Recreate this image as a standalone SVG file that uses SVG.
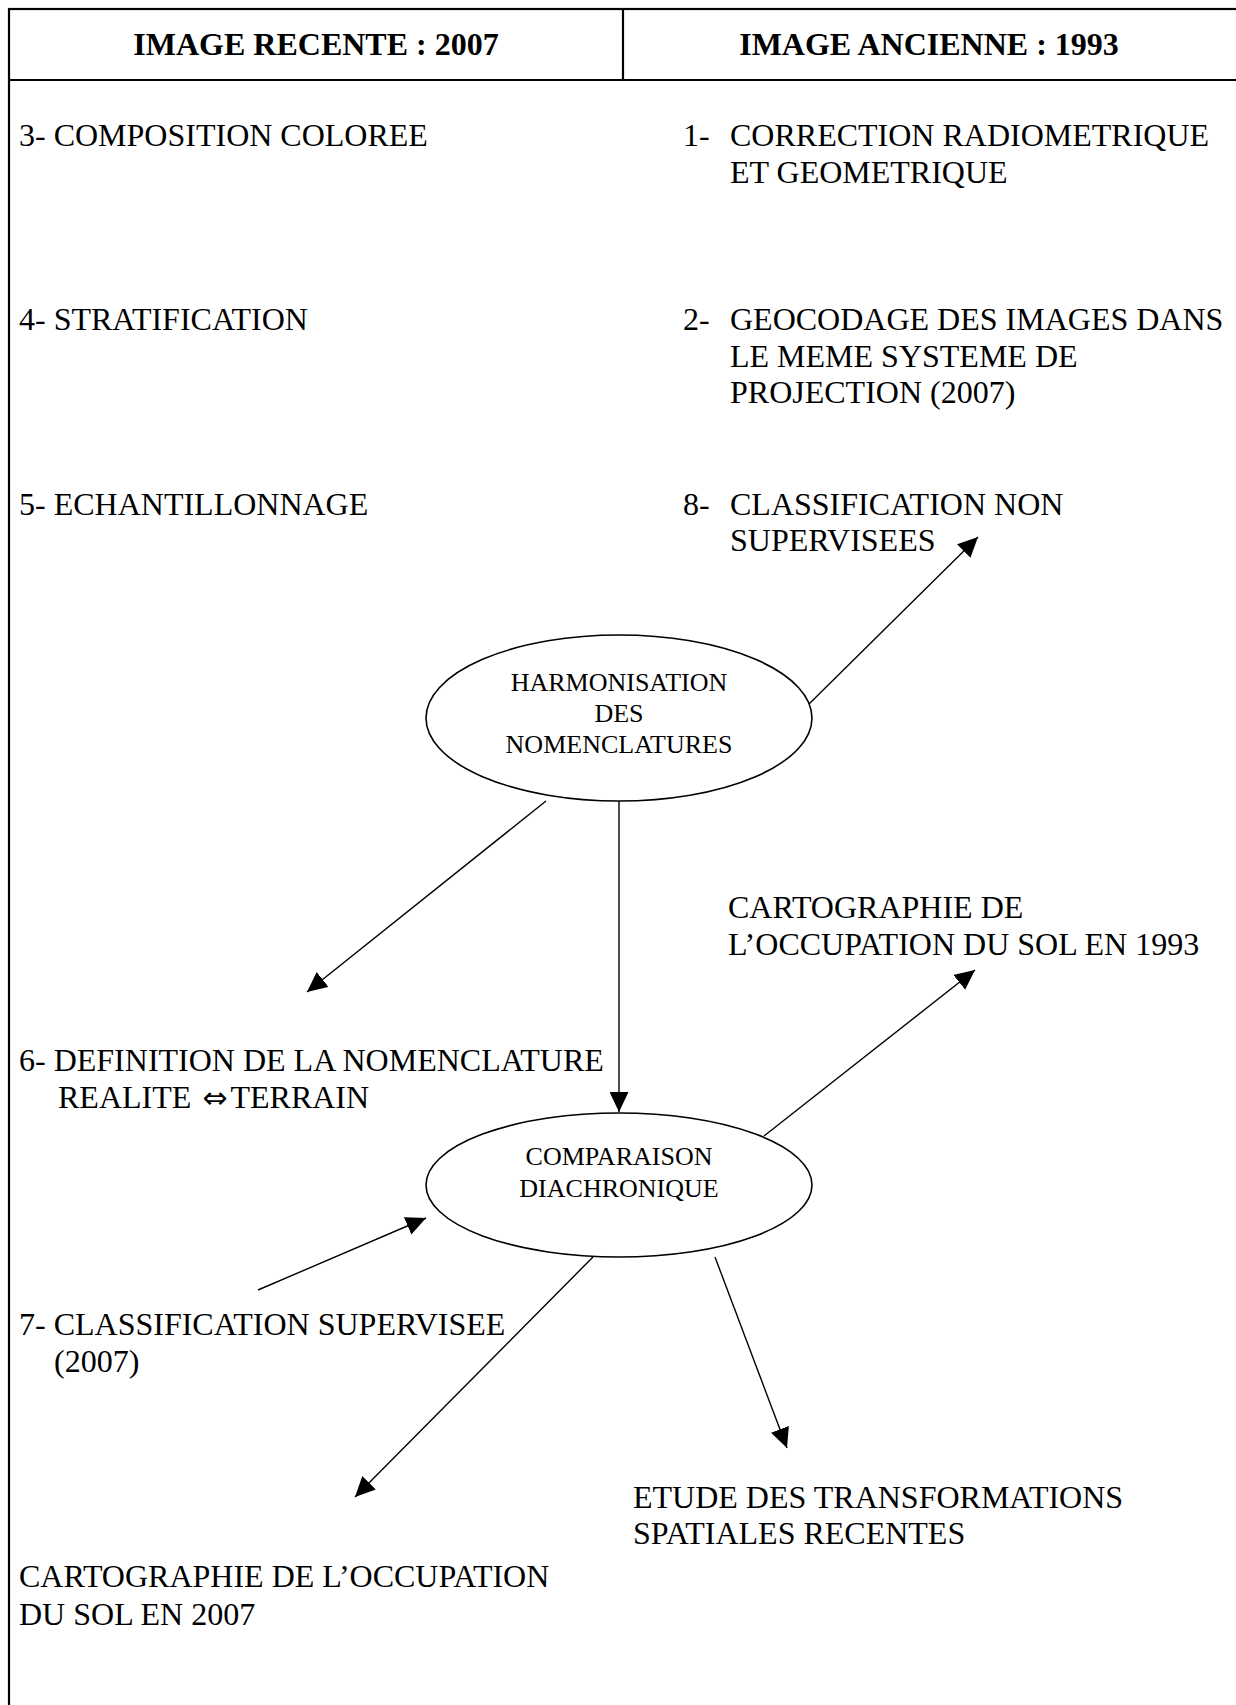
<svg xmlns="http://www.w3.org/2000/svg" width="1236" height="1705" viewBox="0 0 1236 1705">
<style>
  .frame { fill: none; stroke: #000; stroke-width: 2.2; }
  .head { font-family: "Liberation Serif", "Times New Roman", serif; font-size: 32px; font-weight: bold; fill: #000; text-anchor: middle; }
  .t { font-family: "Liberation Serif", "Times New Roman", serif; font-size: 32px; fill: #000; }
  .n { font-family: "Liberation Serif", "Times New Roman", serif; font-size: 26px; fill: #000; text-anchor: middle; }
  .ell { fill: #fff; stroke: #000; stroke-width: 1.6; }
  .conn line { stroke: #000; stroke-width: 1.4; marker-end: url(#arr); }
</style>
<defs>
  <marker id="arr" markerUnits="userSpaceOnUse" markerWidth="20" markerHeight="19" refX="20" refY="9.5" orient="auto">
    <path d="M0,0 L20,9.5 L0,19 z" fill="#000"/>
  </marker>
</defs>
<rect width="1236" height="1705" fill="#fff"/>
<g id="frame">
  <rect class="frame" x="9" y="9" width="1240" height="1710"/>
  <line class="frame" x1="9" y1="80" x2="1240" y2="80"/>
  <line class="frame" x1="623" y1="9" x2="623" y2="80"/>
  <text class="head" x="316" y="55">IMAGE RECENTE : 2007</text>
  <text class="head" x="929" y="55">IMAGE ANCIENNE : 1993</text>
</g>
<g id="step3"><text class="t" x="19" y="146">3- COMPOSITION COLOREE</text></g>
<g id="step4"><text class="t" x="19" y="330">4- STRATIFICATION</text></g>
<g id="step5"><text class="t" x="19" y="515">5- ECHANTILLONNAGE</text></g>
<g id="step1">
  <text class="t" x="683" y="146">1-</text>
  <text class="t" x="730" y="146">CORRECTION RADIOMETRIQUE</text>
  <text class="t" x="730" y="183">ET GEOMETRIQUE</text>
</g>
<g id="step2">
  <text class="t" x="683" y="330">2-</text>
  <text class="t" x="730" y="330">GEOCODAGE DES IMAGES DANS</text>
  <text class="t" x="730" y="367">LE MEME SYSTEME DE</text>
  <text class="t" x="730" y="403">PROJECTION (2007)</text>
</g>
<g id="step8">
  <text class="t" x="683" y="515">8-</text>
  <text class="t" x="730" y="515">CLASSIFICATION NON</text>
  <text class="t" x="730" y="551">SUPERVISEES</text>
</g>
<g id="harmonisation">
  <ellipse class="ell" cx="619" cy="718" rx="193" ry="83"/>
  <text class="n" x="619" y="691">HARMONISATION</text>
  <text class="n" x="619" y="722">DES</text>
  <text class="n" x="619" y="753">NOMENCLATURES</text>
</g>
<g id="carto1993">
  <text class="t" x="728" y="918">CARTOGRAPHIE DE</text>
  <text class="t" x="728" y="955">L’OCCUPATION DU SOL EN 1993</text>
</g>
<g id="step6">
  <text class="t" x="19" y="1071">6- DEFINITION DE LA NOMENCLATURE</text>
  <text class="t" x="58" y="1108">REALITE <tspan dx="3" font-family="DejaVu Sans, sans-serif" font-size="30px">⇔</tspan><tspan dx="3">TERRAIN</tspan></text>
</g>
<g id="comparaison">
  <ellipse class="ell" cx="619" cy="1185" rx="193" ry="72"/>
  <text class="n" x="619" y="1165">COMPARAISON</text>
  <text class="n" x="619" y="1197">DIACHRONIQUE</text>
</g>
<g id="step7">
  <text class="t" x="19" y="1335">7- CLASSIFICATION SUPERVISEE</text>
  <text class="t" x="54" y="1372">(2007)</text>
</g>
<g id="etude">
  <text class="t" x="633" y="1508">ETUDE DES TRANSFORMATIONS</text>
  <text class="t" x="633" y="1544">SPATIALES RECENTES</text>
</g>
<g id="carto2007">
  <text class="t" x="19" y="1587">CARTOGRAPHIE DE L’OCCUPATION</text>
  <text class="t" x="19" y="1625">DU SOL EN 2007</text>
</g>
<g id="connectors" class="conn">
  <line x1="809" y1="704" x2="978" y2="537"/>
  <line x1="546" y1="801" x2="307" y2="992"/>
  <line x1="619" y1="801" x2="619" y2="1112"/>
  <line x1="764" y1="1136" x2="975" y2="970"/>
  <line x1="258" y1="1290" x2="426" y2="1218"/>
  <line x1="593" y1="1257" x2="355" y2="1497"/>
  <line x1="715" y1="1257" x2="787" y2="1448"/>
</g>
</svg>
